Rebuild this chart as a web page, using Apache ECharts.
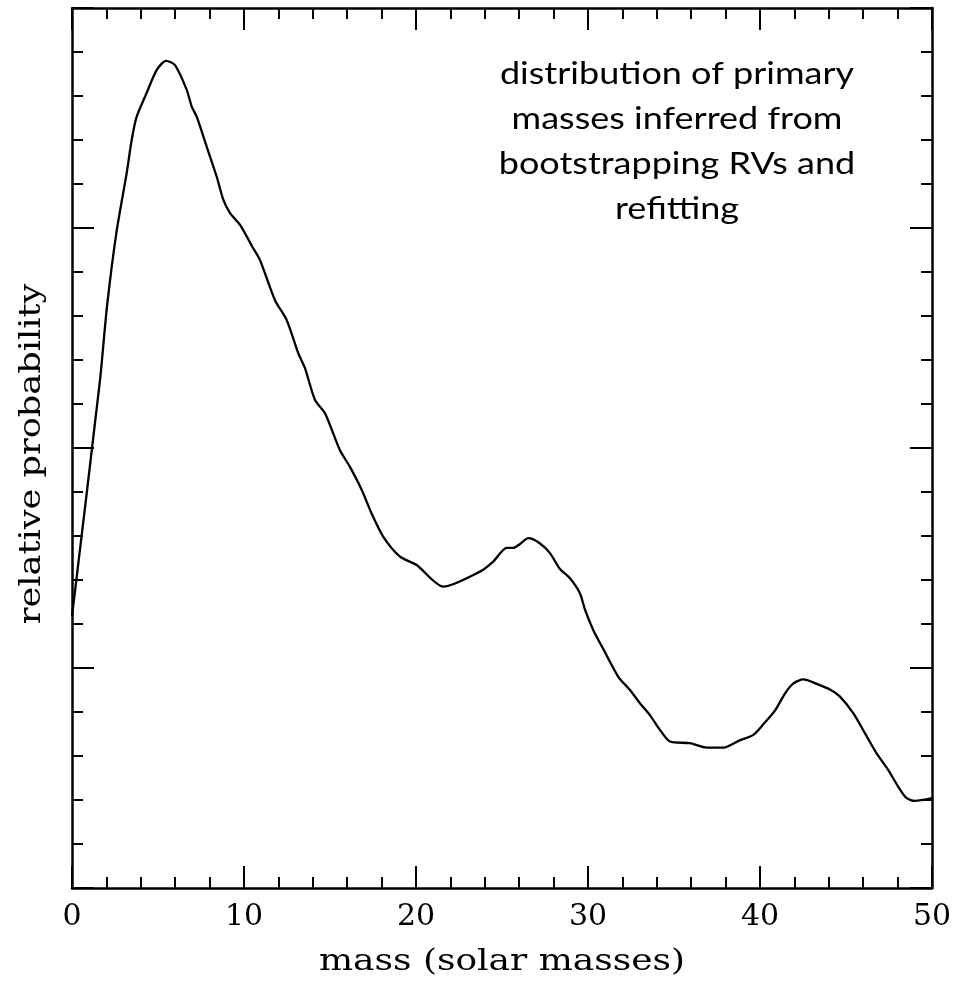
<!DOCTYPE html>
<html>
<head>
<meta charset="utf-8">
<script src="https://cdn.jsdelivr.net/npm/echarts@6/dist/echarts.min.js"></script>
<style>
html,body{margin:0;padding:0;background:#fff;}
#chart{width:958px;height:983px;}
</style>
</head>
<body>
<div id="chart"></div>
<script>
// Data
const massValues = [0, 1.63, 2.03, 2.58, 3.18, 3.47, 3.76, 4.34, 4.92, 5.47, 5.99, 6.67, 6.96, 7.25, 7.83, 8.41, 8.80, 9.19, 9.77, 10.52, 10.93, 11.80, 12.48, 13.16, 13.55, 14.13, 14.71, 15.58, 16.16, 16.84, 17.42, 18.10, 19.07, 20.04, 21.59, 23.72, 24.49, 25.27, 25.66, 26.05, 26.53, 27.21, 27.79, 28.37, 28.95, 29.53, 29.83, 30.31, 30.89, 31.76, 32.44, 33.02, 33.60, 34.19, 34.77, 35.93, 36.90, 37.87, 38.84, 39.61, 40.19, 40.87, 41.45, 41.94, 42.52, 43.30, 44.07, 44.65, 45.43, 46.10, 46.78, 47.46, 48.04, 48.53, 49.01, 50];
const probValues = [6.18, 11.55, 13.2, 14.89, 16.25, 17.0, 17.53, 18.07, 18.59, 18.80, 18.70, 18.14, 17.76, 17.53, 16.85, 16.17, 15.64, 15.34, 15.07, 14.55, 14.27, 13.36, 12.91, 12.15, 11.81, 11.09, 10.79, 9.95, 9.57, 9.05, 8.51, 7.98, 7.53, 7.34, 6.85, 7.19, 7.42, 7.73, 7.73, 7.82, 7.95, 7.83, 7.61, 7.25, 7.04, 6.70, 6.32, 5.86, 5.43, 4.80, 4.50, 4.20, 3.93, 3.59, 3.33, 3.29, 3.19, 3.19, 3.36, 3.48, 3.72, 4.03, 4.42, 4.65, 4.74, 4.64, 4.51, 4.35, 3.97, 3.52, 3.06, 2.68, 2.30, 2.04, 1.98, 2.04];
const xTickLabels = ['0', '10', '20', '30', '40', '50'];
const annotationLines = ['distribution of primary', 'masses inferred from', 'bootstrapping RVs and', 'refitting'];
const xTitle = 'mass (solar masses)';
const yTitle = 'relative probability';

const seriesData = massValues.map((m, i) => [m, probValues[i]]);

const chart = echarts.init(document.getElementById('chart'), null, {renderer: 'canvas'});
const axisFont = '"DejaVu Serif", serif';
const lineStyle = {color: '#000', width: 2.5};

function xAxisCfg(pos, showLabels) {
  return {
    type: 'value', position: pos, min: 0, max: 50, interval: 10,
    axisLine: {show: true, onZero: false, lineStyle: lineStyle},
    axisTick: {show: true, inside: true, length: 22, lineStyle: {color: '#000', width: 2}},
    minorTick: {show: true, splitNumber: 5, length: 11, lineStyle: {color: '#000', width: 2}},
    splitLine: {show: false},
    axisLabel: {
      show: showLabels, margin: 14, color: '#000', fontFamily: axisFont, fontSize: 30,
      formatter: v => xTickLabels[Math.round(v / 10)] !== undefined ? xTickLabels[Math.round(v / 10)] : ''
    }
  };
}
function yAxisCfg(pos) {
  return {
    type: 'value', position: pos, min: 0, max: 20, interval: 5,
    axisLine: {show: true, onZero: false, lineStyle: lineStyle},
    axisTick: {show: true, inside: true, length: 22, lineStyle: {color: '#000', width: 2}},
    minorTick: {show: true, splitNumber: 5, length: 11, lineStyle: {color: '#000', width: 2}},
    splitLine: {show: false},
    axisLabel: {show: false}
  };
}

chart.setOption({
  animation: false,
  backgroundColor: '#fff',
  grid: {left: 72, top: 8, width: 860, height: 880, containLabel: false},
  xAxis: [xAxisCfg('bottom', true), xAxisCfg('top', false)],
  yAxis: [yAxisCfg('left'), yAxisCfg('right')],
  series: [{
    type: 'line', xAxisIndex: 0, yAxisIndex: 0,
    data: seriesData, showSymbol: false, smooth: 0.25,
    lineStyle: {color: '#000', width: 2.3}
  }],
  graphic: [
    {
      type: 'text', x: 502, y: 962, scaleX: 1.2,
      style: {text: xTitle, font: '30px "DejaVu Serif", serif', fill: '#000', align: 'center', verticalAlign: 'middle'}
    },
    {
      type: 'text', x: 32, y: 454, rotation: Math.PI / 2, scaleX: 1.17,
      style: {text: yTitle, font: '30px "DejaVu Serif", serif', fill: '#000', align: 'center', verticalAlign: 'middle'}
    },
    {
      type: 'text', x: 677, y: 52, scaleX: 1.2,
      style: {
        text: annotationLines.join('\n'), font: '30px Lato, sans-serif', lineHeight: 45,
        fill: '#000', align: 'center', verticalAlign: 'top'
      }
    }
  ]
});
</script>
</body>
</html>
